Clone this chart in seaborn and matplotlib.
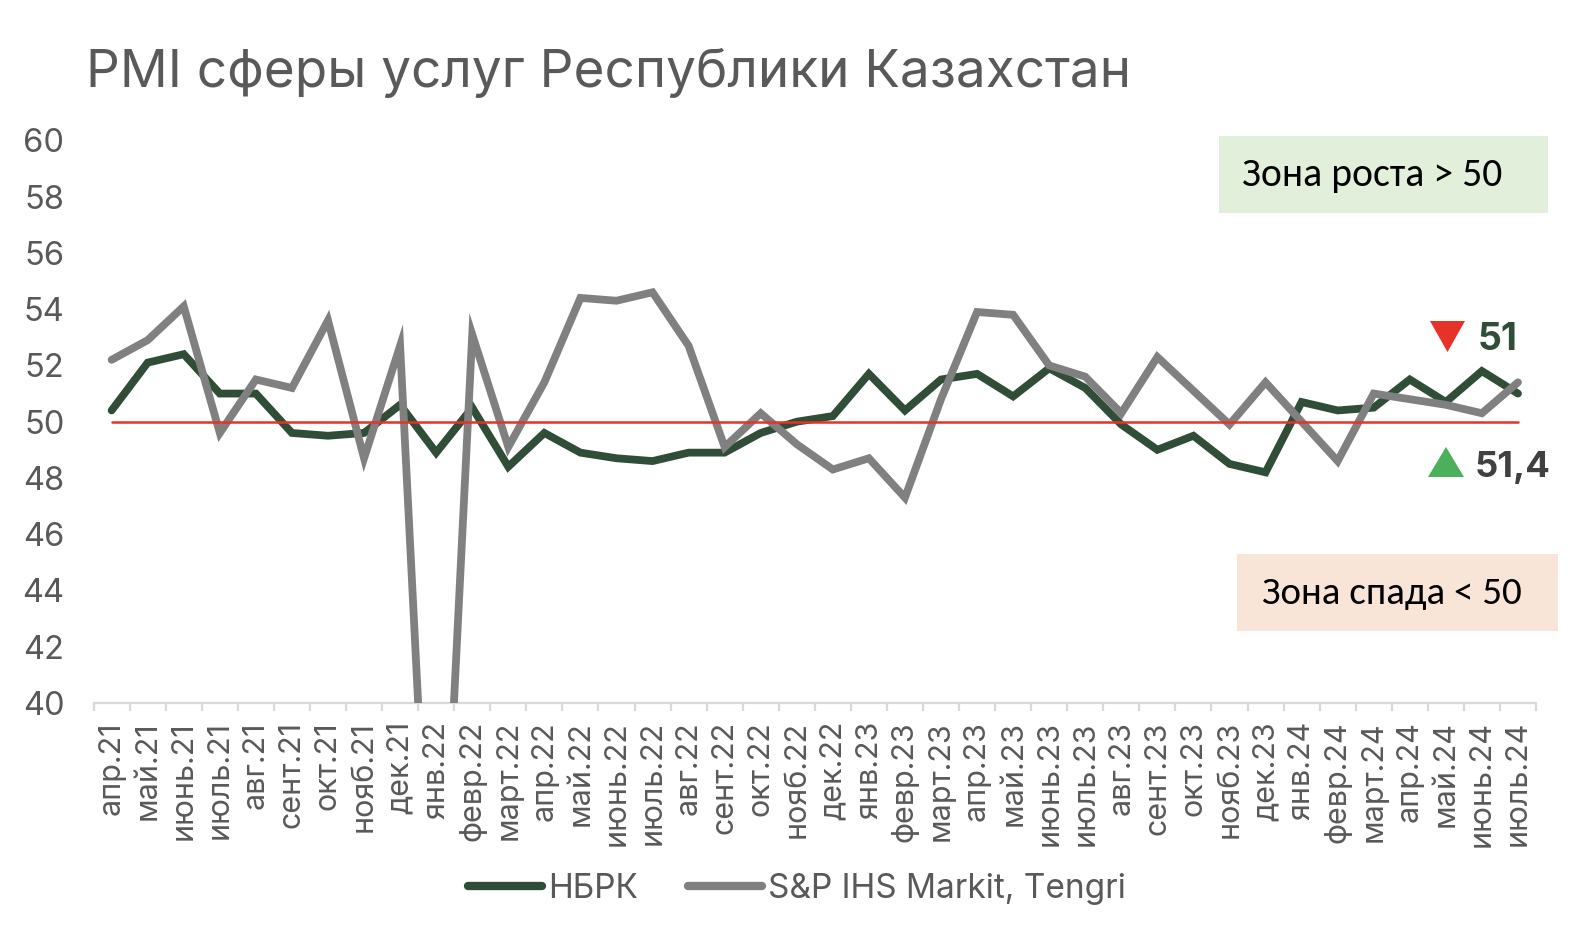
import numpy as np
import pandas as pd
import matplotlib
matplotlib.use("Agg")
import matplotlib.pyplot as plt
import seaborn as sns
from matplotlib import font_manager
from matplotlib.patches import Rectangle, Polygon
from matplotlib.ticker import FixedLocator

# ---------------- data ----------------
months = ["апр.21", "май.21", "июнь.21", "июль.21", "авг.21", "сент.21", "окт.21", "нояб.21", "дек.21",
          "янв.22", "февр.22", "март.22", "апр.22", "май.22", "июнь.22", "июль.22", "авг.22", "сент.22",
          "окт.22", "нояб.22", "дек.22",
          "янв.23", "февр.23", "март.23", "апр.23", "май.23", "июнь.23", "июль.23", "авг.23", "сент.23",
          "окт.23", "нояб.23", "дек.23",
          "янв.24", "февр.24", "март.24", "апр.24", "май.24", "июнь.24", "июль.24"]
nbrk = [50.4, 52.1, 52.4, 51.0, 51.0, 49.6, 49.5, 49.6, 50.6, 48.9, 50.5, 48.4, 49.6, 48.9, 48.7, 48.6,
        48.9, 48.9, 49.6, 50.0, 50.2, 51.7, 50.4, 51.5, 51.7, 50.9, 51.9, 51.2, 49.9, 49.0, 49.5, 48.5,
        48.2, 50.7, 50.4, 50.5, 51.5, 50.7, 51.8, 51.0]
sp_markit = [52.2, 52.9, 54.1, 49.6, 51.5, 51.2, 53.6, 48.7, 52.7, 27.3, 53.1, 49.1, 51.4, 54.4, 54.3, 54.6,
             52.7, 49.1, 50.3, 49.2, 48.3, 48.7, 47.3, 50.8, 53.9, 53.8, 52.0, 51.6, 50.3, 52.3, 51.1, 49.9,
             51.4, 50.0, 48.6, 51.0, 50.8, 50.6, 50.3, 51.4]
threshold_level = 50
series_labels = ["НБРК", "S&P IHS Markit, Tengri"]
y_ticks = [40, 42, 44, 46, 48, 50, 52, 54, 56, 58, 60]
title = "PMI сферы услуг Республики Казахстан"
growth_label = "Зона роста > 50"
decline_label = "Зона спада < 50"
last_nbrk_label = "51"
last_sp_label = "51,4"

# ---------------- style ----------------
sns.set_theme(style="white")
available = {f.name for f in font_manager.fontManager.ttflist}


def pick(*names):
    for n in names:
        if n in available:
            return n
    return "DejaVu Sans"


MAIN = pick("Inter", "Lato", "Noto Sans")
BOX = pick("Carlito", "Liberation Sans Narrow", "Open Sans")
plt.rcParams["font.family"] = [MAIN, "DejaVu Sans"]

GREEN = "#304d38"
GRAY = "#808080"
RED = "#e63228"
TXT = "#595959"

W, H = 1584, 933
fig = plt.figure(figsize=(W / 100, H / 100), dpi=100)


def fx(px):
    return px / W


def fy(py):
    return 1 - py / H


ax_left, ax_right, ax_top, ax_bottom = 93.6, 1536, 140.4, 703
ax = fig.add_axes([fx(ax_left), fy(ax_bottom), fx(ax_right - ax_left), (ax_bottom - ax_top) / H])

df = pd.DataFrame({"idx": np.arange(len(months)), "month": months, "nbrk": nbrk, "sp": sp_markit,
                   "thr": np.full(len(months), threshold_level)})

sns.lineplot(data=df, x="idx", y="nbrk", ax=ax, color=GREEN, linewidth=5.6,
             solid_capstyle="round", solid_joinstyle="miter", legend=False, zorder=2)
sns.lineplot(data=df, x="idx", y="sp", ax=ax, color=GRAY, linewidth=5.6,
             solid_capstyle="round", solid_joinstyle="miter", legend=False, zorder=3)
sns.lineplot(data=df, x="idx", y="thr", ax=ax, color=RED, linewidth=1.8, legend=False, zorder=4)

ax.set_xlim(-0.5, len(months) - 0.5)
ax.set_ylim(y_ticks[0], y_ticks[-1])
ax.set_xlabel("")
ax.set_ylabel("")

for s in ["top", "right", "left"]:
    ax.spines[s].set_visible(False)
ax.spines["bottom"].set_color("#d9d9d9")
ax.spines["bottom"].set_linewidth(1.6)

ax.set_xticks(df["idx"])
ax.set_xticklabels(months, rotation=90, fontsize=22, color=TXT)
ax.xaxis.set_minor_locator(FixedLocator(np.arange(len(months) + 1) - 0.5))
ax.tick_params(axis="x", which="major", length=0, pad=13)
ax.tick_params(axis="x", which="minor", length=6, width=1.6, color="#d9d9d9", direction="out")
ax.xaxis.set_ticks_position("bottom")

ax.set_yticks(y_ticks)
ax.set_yticklabels([str(v) for v in y_ticks], fontsize=23.5, color=TXT)
ax.tick_params(axis="y", length=0, pad=21)

# title
t_title = fig.text(fx(86), fy(87), title, ha="left", va="baseline", color=TXT, fontsize=30)

# zone boxes
fig.add_artist(Rectangle((fx(1219), fy(213)), fx(1548 - 1219), (213 - 136) / H,
                         transform=fig.transFigure, facecolor="#e2efda", edgecolor="none"))
fig.add_artist(Rectangle((fx(1237), fy(631)), fx(1558 - 1237), (631 - 554) / H,
                         transform=fig.transFigure, facecolor="#f8e5d7", edgecolor="none"))
t_g = fig.text(fx(1242), fy(175), growth_label, ha="left", va="center", color="black",
               family=[BOX, "DejaVu Sans"], fontsize=26)
t_d = fig.text(fx(1262), fy(593), decline_label, ha="left", va="center", color="black",
               family=[BOX, "DejaVu Sans"], fontsize=26)

# last-value markers
fig.add_artist(Polygon([(fx(1430), fy(321)), (fx(1465), fy(321)), (fx(1447.5), fy(352))],
                       closed=True, transform=fig.transFigure, facecolor=RED, edgecolor="none"))
fig.add_artist(Polygon([(fx(1428), fy(477)), (fx(1464), fy(477)), (fx(1446), fy(447))],
                       closed=True, transform=fig.transFigure, facecolor="#4caf5a", edgecolor="none"))
t_51 = fig.text(fx(1478), fy(350), last_nbrk_label, ha="left", va="baseline", color=GREEN,
                fontsize=28, fontweight="bold")
t_514 = fig.text(fx(1475), fy(477), last_sp_label, ha="left", va="baseline", color="#404040",
                 fontsize=28, fontweight="bold")


# fit text widths to the reference
def text_width(t):
    fig.canvas.draw()
    r = fig.canvas.get_renderer()
    return t.get_window_extent(r).width


def fit_width(t, target):
    t.set_fontsize(t.get_fontsize() * target / text_width(t))


fit_width(t_title, 1045)
fit_width(t_g, 260)
fit_width(t_d, 260)
fit_width(t_51, 40)
fit_width(t_514, 76)

# legend: measure the label width, then size the legend to the reference
probe = fig.text(0, 0, series_labels[1], fontsize=20)
leg_size = 20 * 358 / text_width(probe)
probe.remove()
size_px = leg_size * 100 / 72
handles = ax.lines[:2]
leg = fig.legend(handles, series_labels, loc="center", bbox_to_anchor=(fx(797), fy(889)),
                 ncol=2, frameon=False, handlelength=74 / size_px, handletextpad=6 / size_px,
                 columnspacing=50 / size_px, prop={"size": leg_size})
for t in leg.get_texts():
    t.set_color(TXT)
for l in leg.get_lines():
    l.set_linewidth(6)

fig.savefig("out.png", dpi=100)
